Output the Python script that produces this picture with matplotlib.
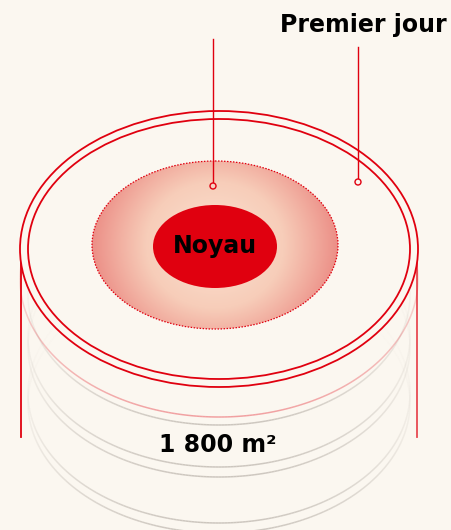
import numpy as np
import matplotlib
matplotlib.use("Agg")
import matplotlib.pyplot as plt
from matplotlib.patches import Ellipse, Circle
from matplotlib.collections import LineCollection
from matplotlib.colors import LinearSegmentedColormap

# Textes
label_zone = "Premier jour"
label_noyau = "Noyau"
label_surface = "1 800 m²"

# Couleurs
fond = "#FBF7F0"
rouge = "#E0000F"
gris = "#BDB6AE"

# Géométrie (pixels, y vers le bas)
cx = 219
anneau_ext = (cx, 249, 398, 276)   # cx, cy, largeur, hauteur
anneau_int = (cx, 249, 382, 260)
zone = (215, 245, 246, 168)
noyau = (215, 246.5, 124, 83)

# Ellipses fantômes (décalage vertical des centres)
fantomes_gris = [295, 337, 347, 393, 403]
fantome_rose = 279

fig = plt.figure(figsize=(4.51, 5.30), dpi=100)
fig.patch.set_facecolor(fond)
ax = fig.add_axes([0, 0, 1, 1])
ax.set_xlim(0, 451)
ax.set_ylim(530, 0)
ax.axis("off")
ax.set_facecolor(fond)


def arc_estompe(cy, w, h, color, alpha_max, lw, puissance=2.0):
    t = np.linspace(0, 2 * np.pi, 400)
    x = cx + w / 2 * np.cos(t)
    y = cy + h / 2 * np.sin(t)
    pts = np.column_stack([x, y]).reshape(-1, 1, 2)
    segs = np.concatenate([pts[:-1], pts[1:]], axis=1)
    tm = (t[:-1] + t[1:]) / 2
    a = alpha_max * ((1 + np.sin(tm)) / 2) ** puissance
    cols = np.zeros((len(tm), 4))
    cols[:, :3] = matplotlib.colors.to_rgb(color)
    cols[:, 3] = a
    ax.add_collection(LineCollection(segs, colors=cols, linewidths=lw, zorder=1))


# Cylindre fantôme
for cy in fantomes_gris:
    arc_estompe(cy, anneau_int[2], anneau_int[3], gris, 0.75, 1.1, 3.0)
arc_estompe(fantome_rose, anneau_ext[2], anneau_ext[3], rouge, 0.35, 1.1, 1.5)

# Côtés verticaux
ax.plot([21, 21], [249, 437], color=rouge, lw=1.3, zorder=2)
ax.plot([417, 417], [249, 437], color=rouge, lw=1.3, alpha=0.7, zorder=2)

# Dessus du cylindre
ax.add_patch(Ellipse(anneau_ext[:2], anneau_ext[2], anneau_ext[3],
                     facecolor=fond, edgecolor=rouge, lw=1.3, zorder=3))
ax.add_patch(Ellipse(anneau_int[:2], anneau_int[2], anneau_int[3],
                     facecolor=fond, edgecolor=rouge, lw=1.3, zorder=3))

# Zone en dégradé (radial, plus marqué sur les côtés)
cmap = LinearSegmentedColormap.from_list("deg", ["#FBE0CF", "#F7CDB9", "#EC8F87"])
zx, zy, zw, zh = zone
gx = np.linspace(zx - zw / 2, zx + zw / 2, 300)
gy = np.linspace(zy - zh / 2, zy + zh / 2, 200)
GX, GY = np.meshgrid(gx, gy)
R = np.sqrt(((GX - zx) / (zw / 2)) ** 2 + ((GY - zy) / (zh / 2 * 1.35)) ** 2)
im = ax.imshow(np.clip(R, 0, 1) ** 1.2, cmap=cmap, vmin=0, vmax=1,
               extent=[zx - zw / 2, zx + zw / 2, zy + zh / 2, zy - zh / 2],
               origin="upper", zorder=4, interpolation="bilinear")
clip = Ellipse((zx, zy), zw, zh, facecolor="none", edgecolor="none",
               transform=ax.transData)
ax.add_patch(clip)
im.set_clip_path(clip)
ax.add_patch(Ellipse((zx, zy), zw, zh, facecolor="none", edgecolor=rouge,
                     lw=0.9, linestyle=(0, (1.2, 1.2)), zorder=5))

# Noyau
ax.add_patch(Ellipse(noyau[:2], noyau[2], noyau[3], facecolor=rouge,
                     edgecolor="none", zorder=6))
ax.text(noyau[0], noyau[1], label_noyau, ha="center", va="center",
        fontsize=17, fontweight="heavy", color="black", zorder=7)

# Lignes de repère
ax.plot([213, 213], [39, 183], color=rouge, lw=1.0, zorder=8)
ax.add_patch(Circle((213, 186), 3, facecolor="#F6D2C2", edgecolor=rouge, lw=1.0, zorder=9))
ax.plot([358, 358], [47, 179], color=rouge, lw=1.0, zorder=8)
ax.add_patch(Circle((358, 182), 3, facecolor=fond, edgecolor=rouge, lw=1.0, zorder=9))

ax.text(447, 25, label_zone, ha="right", va="center", fontsize=17,
        fontweight="heavy", color="black")
ax.text(218, 445, label_surface, ha="center", va="center", fontsize=17,
        fontweight="heavy", color="black", zorder=9)

fig.savefig("out.png", dpi=100, facecolor=fond)
